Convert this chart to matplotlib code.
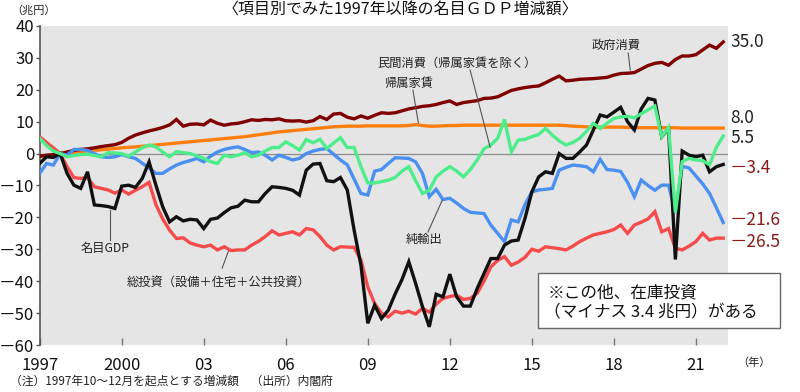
import matplotlib
matplotlib.use("Agg")
import matplotlib.pyplot as plt
from matplotlib.patches import Rectangle

plt.rcParams['font.family'] = ['Noto Sans CJK JP', 'DejaVu Sans']

# ---- data (trillion yen, change from 1997 Q4; quarterly from 1997 Q1) ----
gdp = [-3.1, -1.0, -1.2, 0.0, -6.2, -9.9, -10.9, -5.7, -16.1, -16.3,
       -16.6, -17.2, -10.2, -9.9, -10.6, -7.8, -2.6, -9.9, -16.7, -21.4,
       -19.8, -21.1, -20.6, -20.8, -23.5, -20.6, -20.2, -18.5, -17.0, -16.5,
       -14.6, -15.1, -15.1, -12.5, -10.4, -10.6, -10.9, -11.5, -13.0, -5.2,
       -3.3, -3.1, -8.5, -8.8, -7.5, -11.4, -24.0, -35.0, -53.2, -47.5,
       -51.7, -49.1, -44.0, -39.5, -33.9, -40.7, -48.0, -54.3, -44.1, -44.9,
       -37.8, -44.9, -47.8, -47.8, -42.3, -37.6, -32.9, -32.9, -28.7, -27.4,
       -27.1, -20.3, -12.0, -7.3, -5.7, -6.2, 0.0, -1.5, -1.5, 0.5,
       2.7, 7.4, 12.1, 11.5, 13.0, 14.5, 10.0, 7.4, 14.0, 17.3,
       16.8, 5.3, 7.9, -33.2, 0.8, -0.5, -1.0, -0.5, -5.7, -4.1,
       -3.4]

gov = [-0.8, -0.5, -0.3, 0.0, 0.5, 1.0, 1.3, 1.5, 1.8, 2.2,
       2.5, 2.8, 3.5, 4.8, 5.8, 6.5, 7.1, 7.6, 8.2, 9.0,
       10.7, 8.6, 9.2, 9.3, 9.0, 10.5, 9.5, 8.9, 9.3, 9.5,
       10.0, 10.6, 10.4, 10.7, 10.6, 10.9, 10.3, 10.2, 10.3, 9.9,
       10.3, 11.6, 10.7, 12.4, 12.6, 11.4, 10.9, 11.8, 11.1, 12.0,
       12.8, 12.6, 12.8, 13.4, 14.0, 14.4, 14.8, 15.0, 15.4, 16.0,
       16.5, 15.4, 16.0, 16.3, 16.6, 17.3, 17.4, 17.8, 18.8, 19.8,
       20.3, 20.7, 21.0, 21.2, 22.2, 23.3, 24.3, 22.8, 23.0, 23.3,
       23.4, 23.5, 23.7, 23.9, 24.6, 25.1, 25.2, 25.4, 26.5, 27.6,
       28.3, 28.6, 27.7, 29.5, 30.6, 30.6, 31.0, 32.5, 34.0, 33.0,
       35.0]

rent = [-1.0, -0.7, -0.4, 0.0, 0.2, 0.4, 0.6, 0.8, 1.0, 1.2,
        1.4, 1.6, 1.8, 2.0, 2.1, 2.3, 2.5, 2.7, 2.9, 3.1,
        3.3, 3.5, 3.7, 3.9, 4.1, 4.3, 4.5, 4.7, 4.9, 5.1,
        5.3, 5.6, 5.9, 6.2, 6.5, 6.8, 7.0, 7.2, 7.4, 7.6,
        7.8, 8.0, 8.2, 8.4, 8.5, 8.6, 8.6, 8.6, 8.7, 8.7,
        8.7, 8.7, 8.7, 8.7, 8.8, 9.1, 8.8, 8.6, 8.6, 8.7,
        8.8, 8.8, 8.9, 8.9, 8.9, 8.9, 8.9, 8.9, 8.9, 8.9,
        8.9, 8.9, 8.9, 8.9, 8.9, 8.9, 8.9, 8.8, 8.6, 8.5,
        8.4, 8.3, 8.3, 8.3, 8.3, 8.3, 8.2, 8.2, 8.1, 8.1,
        8.1, 8.1, 8.1, 8.1, 8.0, 8.0, 8.0, 8.0, 8.0, 8.0,
        8.0]

consumption = [4.8, 2.5, 0.8, 0.0, -1.0, -0.6, -0.3, -0.2, -0.6, -1.0,
               0.3, 0.2, 0.0, -0.8, 0.5, 1.8, 2.7, 2.1, 0.5, -1.0,
               0.6, 0.3, 0.0, -0.7, -1.5, -2.5, -3.1, -0.5, -1.0, -0.5,
               0.3, -1.0, -0.5, 0.8, 1.9, 1.9, 3.7, 2.5, 1.1, 4.4,
               3.4, 4.5, 1.6, 3.3, 5.0, 1.9, 1.9, -4.1, -9.2, -9.2,
               -8.8, -8.3, -7.5, -5.5, -4.1, -8.5, -12.5, -11.5, -7.3, -5.5,
               -4.1, -5.5, -7.3, -5.0, -2.0, 1.5, 2.7, 4.8, 10.7, 0.6,
               4.2, 4.5, 5.3, 6.0, 7.9, 5.8, 4.0, 2.7, 3.5, 4.8,
               7.0, 9.5, 7.9, 9.5, 11.0, 11.5, 11.7, 11.2, 12.5, 13.7,
               14.9, 5.3, 8.2, -18.5, -2.5, -1.5, -2.0, -2.2, -3.5, 2.0,
               5.5]

net_exports = [-6.2, -3.1, -3.6, 0.0, -0.5, 1.3, 1.3, 1.0, 0.0, -1.0,
               -1.2, -1.0, -0.3, -1.0, -1.5, -3.0, -4.5, -6.2, -6.2, -4.8,
               -3.6, -2.8, -2.2, -1.5, -2.6, -0.8, 0.5, 1.3, 1.8, 2.1,
               1.3, 0.3, 0.5, -0.5, -2.0, -0.5, -1.2, -2.0, -1.5, 0.0,
               0.8, 1.3, 1.6, -0.2, -2.0, -3.5, -8.0, -12.5, -13.0, -5.5,
               -5.0, -3.1, -1.3, -1.4, -1.5, -2.6, -6.2, -13.5, -11.2, -14.4,
               -14.0, -15.5, -17.2, -18.4, -18.6, -18.8, -22.4, -25.0, -27.6, -20.8,
               -21.4, -16.0, -12.0, -11.4, -11.2, -10.9, -5.2, -4.3, -3.6, -3.8,
               -4.1, -5.7, -1.8, -5.0, -5.2, -5.6, -9.0, -13.5, -8.3, -10.0,
               -11.5, -9.9, -9.9, -18.5, -4.0, -4.5, -7.0, -9.5, -12.5, -17.0,
               -21.6]

investment = [5.3, 3.5, 1.8, 0.0, -4.1, -7.5, -7.8, -7.5, -10.4, -10.9,
              -11.4, -12.4, -11.4, -12.7, -11.5, -10.4, -9.0, -16.0, -20.5, -24.0,
              -26.6, -26.4, -28.0, -28.7, -29.2, -28.7, -30.2, -29.2, -30.4, -30.2,
              -30.2, -28.7, -27.5, -26.0, -24.2, -25.5, -25.0, -24.5, -25.5, -23.5,
              -23.9, -26.0, -28.7, -30.2, -29.2, -29.3, -29.4, -33.4, -41.8, -47.0,
              -50.0, -51.2, -49.4, -50.0, -49.4, -50.3, -48.5, -49.7, -47.2, -45.4,
              -44.8, -44.4, -45.7, -45.4, -43.8, -40.0, -35.5, -33.5, -32.3, -35.0,
              -34.0, -32.5, -30.0, -30.6, -29.2, -29.5, -29.8, -30.2, -29.0, -27.6,
              -26.5, -25.5, -25.0, -24.5, -23.8, -22.4, -25.0, -22.4, -21.5, -20.5,
              -18.2, -24.5, -23.5, -29.7, -30.2, -29.0, -27.6, -25.0, -27.1, -26.5,
              -26.5]

tick_pos = [0, 12, 24, 36, 48, 60, 72, 84, 96]
tick_labels = ['1997', '2000', '03', '06', '09', '12', '15', '18', '21']
y_ticks = [40, 30, 20, 10, 0, -10, -20, -30, -40, -50, -60]
end_labels = ['35.0', '8.0', '5.5', '－3.4', '－21.6', '－26.5']
end_label_y = [35.0, 11.1, 4.9, -4.5, -20.8, -27.6]
end_label_colors = ['#222222', '#222222', '#222222', '#8b1a1a', '#8b1a1a', '#8b1a1a']

# ---- figure ----
W, H = 800, 392
fig = plt.figure(figsize=(W / 100, H / 100), dpi=100)
ax = fig.add_axes([39.7 / W, 1 - 345 / H, (728 - 39.7) / W, (345 - 26) / H])
ax.set_facecolor('#e5e5e5')

x = list(range(len(gdp)))
lw = 2.4
ax.axhline(0, color='#8c8c8c', lw=0.9, zorder=1)
ax.plot(x, rent, color='#ff7f0e', lw=lw, zorder=2, solid_joinstyle='miter')
ax.plot(x, gov, color='#7f0000', lw=lw, zorder=3, solid_joinstyle='miter')
ax.plot(x, investment, color='#f54b4b', lw=lw, zorder=3, solid_joinstyle='miter')
ax.plot(x, net_exports, color='#4a90f0', lw=lw, zorder=4, solid_joinstyle='miter')
ax.plot(x, gdp, color='#111111', lw=lw, zorder=5, solid_joinstyle='miter')
ax.plot(x, consumption, color='#4ded8a', lw=lw, zorder=6, solid_joinstyle='miter')

ax.set_xlim(0, 100.7)
ax.set_ylim(-60, 40)
ax.set_xticks(tick_pos)
ax.set_xticklabels(tick_labels)
ax.set_yticks(y_ticks)
ax.set_yticklabels([('－' + str(-v)) if v < 0 else str(v) for v in y_ticks])
ax.tick_params(axis='x', direction='in', length=5, width=1, color='#777777',
               labelsize=12, pad=9, labelcolor='#111111')
ax.tick_params(axis='y', direction='out', length=3, width=1, color='#555555',
               labelsize=12, pad=1, labelcolor='#111111')
for s in ['top', 'right', 'bottom']:
    ax.spines[s].set_visible(False)
ax.spines['left'].set_color('#555555')
ax.spines['left'].set_linewidth(1.2)

# end labels
for lab, yv, c in zip(end_labels, end_label_y, end_label_colors):
    ax.text(101.0, yv, lab, color=c, fontsize=12.5, va='center', ha='left',
            clip_on=False)

# annotations with leader lines
def note(text, tx, ty, x0, y0, x1, y1, fs=8.8):
    ax.text(tx, ty, text, fontsize=fs, ha='center', va='center', color='#222222')
    ax.plot([x0, x1], [y0, y1], color='#555555', lw=0.8, zorder=7)

note('政府消費', 84.3, 34.0, 86.1, 31.5, 86.4, 26.2)
note('民間消費（帰属家賃を除く）', 61.1, 28.4, 62.97, 26.2, 65.9, 2.0)
note('帰属家賃', 53.9, 22.1, 54.6, 19.9, 55.4, 9.6)
note('名目GDP', 9.56, -29.6, 10.3, -17.7, 10.3, -27.1)
note('純輸出', 56.2, -26.8, 56.8, -24.6, 58.9, -14.6)
note('総投資（設備＋住宅＋公共投資）', 26.1, -40.3, 26.7, -35.9, 27.6, -30.6)

# title and other figure text
fig.text(400 / W, 1 - 10 / H, '〈項目別でみた1997年以降の名目ＧＤＰ増減額〉',
         fontsize=11.5, ha='center', va='center', color='#111111')
fig.text(11 / W, 1 - 10 / H, '（兆円）', fontsize=8, ha='left', va='center',
         color='#222222')
fig.text(737 / W, 1 - 363 / H, '（年）', fontsize=8, ha='left', va='center',
         color='#222222')
fig.text(10 / W, 1 - 381 / H,
         '（注）1997年10～12月を起点とする増減額　（出所）内閣府',
         fontsize=8.5, ha='left', va='center', color='#222222')

# note box
fig.patches.append(Rectangle((538 / W, 1 - 328 / H), (780 - 538) / W, (328 - 273) / H,
                             transform=fig.transFigure, facecolor='white',
                             edgecolor='#666666', lw=1, zorder=10))
fig.text(548 / W, 1 - 293 / H, '※この他、在庫投資', fontsize=12, ha='left',
         va='center', color='#111111', zorder=11)
fig.text(544 / W, 1 - 313 / H, '（マイナス 3.4 兆円）がある', fontsize=12, ha='left',
         va='center', color='#111111', zorder=11)

fig.savefig('out.png', dpi=100)
